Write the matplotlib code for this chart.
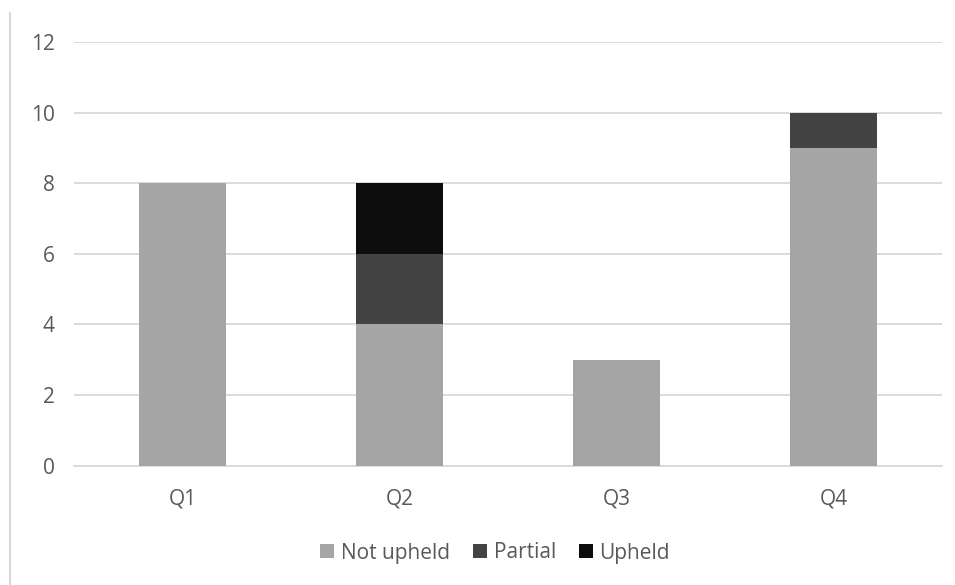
import numpy as np
import matplotlib.pyplot as plt
from matplotlib.lines import Line2D

quarters = ['Q1', 'Q2', 'Q3', 'Q4']
not_upheld = [8, 4, 3, 9]
partial = [0, 2, 0, 1]
upheld = [0, 2, 0, 0]

plt.rcParams['font.family'] = ['Open Sans', 'DejaVu Sans']

W, H = 955, 585
fig = plt.figure(figsize=(W / 100, H / 100), dpi=100)
ax = fig.add_axes([74 / W, 1 - 465.5 / H, (942 - 74) / W, (465.5 - 42) / H])

x = np.arange(len(quarters))
width = 0.405
b1 = np.array(not_upheld)
b2 = b1 + np.array(partial)
ax.bar(x, not_upheld, width, color='#a5a5a5', label='Not upheld', zorder=3)
ax.bar(x, partial, width, bottom=b1, color='#434343', label='Partial', zorder=3)
ax.bar(x, upheld, width, bottom=b2, color='#0d0d0d', label='Upheld', zorder=3)

ax.set_xlim(-0.5, len(quarters) - 0.5)
ax.set_ylim(0, 12)
ax.set_yticks(range(0, 13, 2))
ax.set_xticks(x)
ax.set_xticklabels(quarters)
ax.yaxis.grid(True, color='#d9d9d9', linewidth=1.3, zorder=0)
for s in ax.spines.values():
    s.set_visible(False)
ax.spines['bottom'].set_visible(True)
ax.spines['bottom'].set_color('#d9d9d9')
ax.spines['bottom'].set_linewidth(1.3)
ax.tick_params(length=0, labelsize=15, labelcolor='#595959')
ax.tick_params(axis='y', pad=14)
ax.tick_params(axis='x', pad=16.5)

ax.legend(loc='center', bbox_to_anchor=(495 / W, (H - 553) / H), bbox_transform=fig.transFigure,
          ncol=3, frameon=False, fontsize=15, labelcolor='#595959',
          handlelength=0.67, handleheight=0.67, handletextpad=0.33, columnspacing=1.1,
          borderpad=0)

fig.add_artist(Line2D([9.5 / W, 9.5 / W], [0, 1 - 13 / H], color='#d9d9d9', linewidth=1.5))

fig.savefig('out.png', dpi=100)
